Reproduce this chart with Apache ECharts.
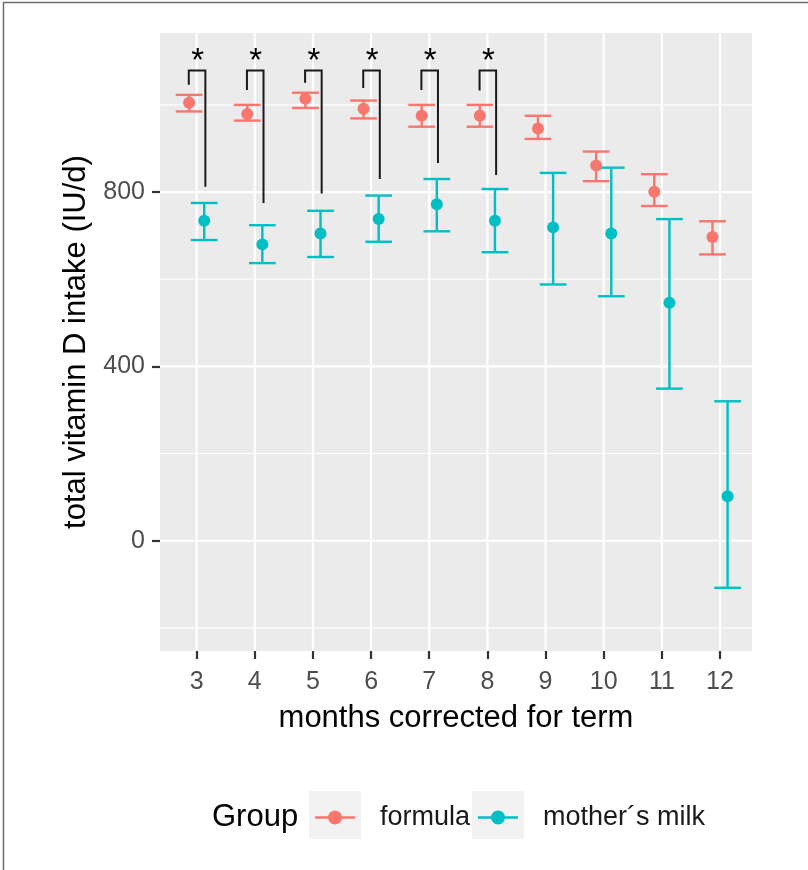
<!DOCTYPE html>
<html>
<head>
<meta charset="utf-8">
<script src="https://cdn.jsdelivr.net/npm/echarts@6/dist/echarts.min.js"></script>
<style>
html,body{margin:0;padding:0;background:#fff;}
#chart{width:808px;height:870px;}
</style>
</head>
<body>
<div id="chart"></div>
<script>
// ---- data ----
var months = [3, 4, 5, 6, 7, 8, 9, 10, 11, 12];
var formulaMean = [1005, 979, 1014, 991, 975, 975, 946, 861, 801, 697];
var formulaLow  = [985, 964, 993, 969, 950, 950, 922, 825, 768, 657];
var formulaHigh = [1023, 1000, 1028, 1010, 1000, 1000, 975, 893, 841, 733];
var milkMean = [734, 680, 705, 738, 772, 734, 719, 705, 546, 102];
var milkLow  = [690, 637, 651, 686, 710, 662, 588, 561, 349, -108];
var milkHigh = [775, 724, 757, 792, 830, 807, 844, 856, 738, 320];
// significance brackets (months 3-8)
var sigMonths = [3, 4, 5, 6, 7, 8];
var sigLeftEnd  = [1046, 1034, 1051, 1039, 1034, 1033];
var sigRightEnd = [812, 775, 797, 830, 867, 839];
var sigTop = 1079;
var yMajorTicks = [0, 400, 800];
var yMinorTicks = [-200, 200, 600, 1000];
var xTicks = [3, 4, 5, 6, 7, 8, 9, 10, 11, 12];
var groupNames = ['formula', 'mother\u00b4s milk'];

// ---- styles ----
var FONT = '"Liberation Sans", Arial, sans-serif';
var cFormula = '#F8766D', cMilk = '#00BFC4';
var dodgeL = -0.13, dodgeR = 0.13;
var capHalf = 0.23;

var chart = echarts.init(document.getElementById('chart'), null, {renderer: 'canvas'});

function hLines(width) {
  return function (params, api) {
    var cs = params.coordSys;
    var p = api.coord([api.value(0), api.value(1)]);
    return {type: 'rect', shape: {x: cs.x, y: p[1] - width / 2, width: cs.width, height: width},
      style: {fill: '#ffffff'}, silent: true};
  };
}
function vLines(width) {
  return function (params, api) {
    var cs = params.coordSys;
    var p = api.coord([api.value(0), api.value(1)]);
    return {type: 'rect', shape: {x: p[0] - width / 2, y: cs.y, width: width, height: cs.height},
      style: {fill: '#ffffff'}, silent: true};
  };
}
function errBars(color) {
  return function (params, api) {
    var x = api.value(0), lo = api.value(1), hi = api.value(2);
    var pLo = api.coord([x, lo]), pHi = api.coord([x, hi]);
    var cL = api.coord([x - capHalf, lo])[0], cR = api.coord([x + capHalf, lo])[0];
    var st = {stroke: color, lineWidth: 2.4};
    return {type: 'group', children: [
      {type: 'line', shape: {x1: pLo[0], y1: pLo[1], x2: pHi[0], y2: pHi[1]}, style: st},
      {type: 'line', shape: {x1: cL, y1: pLo[1], x2: cR, y2: pLo[1]}, style: st},
      {type: 'line', shape: {x1: cL, y1: pHi[1], x2: cR, y2: pHi[1]}, style: st}
    ]};
  };
}
function brackets(params, api) {
  var m = api.value(0), le = api.value(1), re = api.value(2), top = api.value(3);
  var a = api.coord([m - 0.135, le]);
  var b = api.coord([m - 0.135, top]);
  var c = api.coord([m + 0.15, top]);
  var d = api.coord([m + 0.15, re]);
  var mid = api.coord([m, top]);
  return {type: 'group', children: [
    {type: 'polyline', shape: {points: [a, b, c, d]}, style: {stroke: '#1a1a1a', lineWidth: 2, fill: null}},
    {type: 'text', x: mid[0] + 1, y: mid[1] + 8, style: {text: '*', fill: '#000', font: '33px ' + FONT, align: 'center', verticalAlign: 'bottom'}}
  ]};
}

var formulaPts = months.map(function (m, i) { return [m + dodgeL, formulaMean[i]]; });
var milkPts = months.map(function (m, i) { return [m + dodgeR, milkMean[i]]; });
var formulaBars = months.map(function (m, i) { return [m + dodgeL, formulaLow[i], formulaHigh[i]]; });
var milkBars = months.map(function (m, i) { return [m + dodgeR, milkLow[i], milkHigh[i]]; });
var sigData = sigMonths.map(function (m, i) { return [m, sigLeftEnd[i], sigRightEnd[i], sigTop]; });

var legendIcon = 'path://M0,6 L40,6 L40,8.4 L0,8.4 Z M27,7.2 A7,7 0 1,1 13,7.2 A7,7 0 1,1 27,7.2 Z';

var option = {
  animation: false,
  backgroundColor: '#ffffff',
  textStyle: {fontFamily: FONT},
  grid: {left: 160, top: 33, width: 592, height: 618, show: true, backgroundColor: '#EBEBEB', borderWidth: 0, containLabel: false},
  title: {text: 'Group', left: 207, top: 797, textStyle: {fontSize: 31, fontWeight: 'normal', color: '#000', fontFamily: FONT}},
  legend: {
    data: groupNames, left: 310, top: 799, itemWidth: 40, itemHeight: 14, itemGap: 8,
    icon: legendIcon,
    textStyle: {fontSize: 27, color: '#1a1a1a', fontFamily: FONT, padding: [0, 0, 0, 20]}
  },
  graphic: [
    {type: 'line', shape: {x1: 3.5, y1: 2, x2: 3.5, y2: 870}, style: {stroke: '#6b6b6b', lineWidth: 1.5}, silent: true},
    {type: 'line', shape: {x1: 3, y1: 2.5, x2: 808, y2: 2.5}, style: {stroke: '#6b6b6b', lineWidth: 1.5}, silent: true},
    {type: 'rect', shape: {x: 309, y: 791, width: 52, height: 48}, style: {fill: '#F2F2F2'}, z: -1, silent: true},
    {type: 'rect', shape: {x: 472, y: 791, width: 52, height: 48}, style: {fill: '#F2F2F2'}, z: -1, silent: true}
  ],
  xAxis: {
    type: 'value', min: 2.37, max: 12.55,
    name: 'months corrected for term', nameLocation: 'middle', nameGap: 52,
    nameTextStyle: {fontSize: 31, color: '#000', fontFamily: FONT},
    axisLine: {show: false, onZero: false},
    axisTick: {show: true, inside: false, customValues: xTicks, length: 8, lineStyle: {color: '#333333', width: 2.2}},
    axisLabel: {customValues: xTicks, fontSize: 25, color: '#4D4D4D', margin: 19, fontFamily: FONT},
    splitLine: {show: false}
  },
  yAxis: {
    type: 'value', min: -253, max: 1165,
    name: 'total vitamin D intake (IU/d)', nameLocation: 'middle', nameGap: 62, nameRotate: 90,
    nameTextStyle: {fontSize: 31, color: '#000', fontFamily: FONT},
    axisLine: {show: false, onZero: false},
    axisTick: {show: true, inside: false, customValues: yMajorTicks, length: 8, lineStyle: {color: '#333333', width: 2.2}},
    axisLabel: {customValues: yMajorTicks, fontSize: 25, color: '#4D4D4D', margin: 15, fontFamily: FONT},
    splitLine: {show: false}
  },
  series: [
    {type: 'custom', name: 'minorY', silent: true, z: 1, clip: false, renderItem: hLines(1.1), data: yMinorTicks.map(function (v) { return [3, v]; })},
    {type: 'custom', name: 'majorY', silent: true, z: 1, clip: false, renderItem: hLines(2.2), data: yMajorTicks.map(function (v) { return [3, v]; })},
    {type: 'custom', name: 'majorX', silent: true, z: 1, clip: false, renderItem: vLines(2.2), data: xTicks.map(function (v) { return [v, 0]; })},
    {type: 'custom', name: 'formulaErr', silent: true, z: 3, renderItem: errBars(cFormula), data: formulaBars},
    {type: 'custom', name: 'milkErr', silent: true, z: 3, renderItem: errBars(cMilk), data: milkBars},
    {type: 'scatter', name: groupNames[0], z: 4, symbol: 'circle', symbolSize: 12, itemStyle: {color: cFormula, opacity: 1}, data: formulaPts},
    {type: 'scatter', name: groupNames[1], z: 4, symbol: 'circle', symbolSize: 12, itemStyle: {color: cMilk, opacity: 1}, data: milkPts},
    {type: 'custom', name: 'sig', silent: true, z: 5, renderItem: brackets, data: sigData}
  ]
};
chart.setOption(option);
</script>
</body>
</html>
